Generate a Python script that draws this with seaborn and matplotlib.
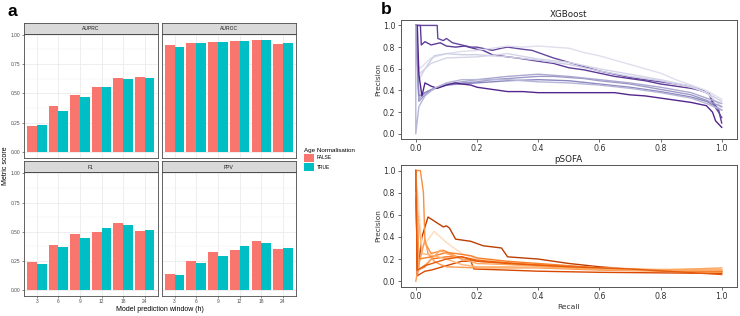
import matplotlib
matplotlib.use("Agg")
import matplotlib.pyplot as plt
import seaborn as sns
import pandas as pd
import numpy as np
from matplotlib.patches import Patch

# ---------------- Panel a data ----------------
windows = ["3", "6", "9", "12", "18", "24"]
age_levels = ["FALSE", "TRUE"]
metrics = ["AUPRC", "AUROC", "F1", "PPV"]

auprc_false = [0.224, 0.395, 0.486, 0.551, 0.631, 0.642]
auprc_true = [0.233, 0.350, 0.472, 0.551, 0.619, 0.633]
auroc_false = [0.909, 0.929, 0.940, 0.946, 0.955, 0.920]
auroc_true = [0.898, 0.929, 0.937, 0.946, 0.952, 0.926]
f1_false = [0.238, 0.388, 0.480, 0.500, 0.572, 0.509]
f1_true = [0.221, 0.368, 0.445, 0.532, 0.555, 0.517]
ppv_false = [0.138, 0.247, 0.328, 0.345, 0.420, 0.353]
ppv_true = [0.126, 0.230, 0.293, 0.374, 0.402, 0.359]

# ---------------- Panel b data (precision-recall curves) ----------------
xgb_recall = [
    [0, 0.015, 0.018, 0.03, 0.05, 0.08, 0.10, 0.13, 0.16, 0.20, 0.22, 0.25, 0.30, 0.33, 0.40, 0.45, 0.50, 0.55, 0.60, 0.65, 0.70, 0.75, 0.80, 0.85, 0.90, 0.93, 0.96, 0.97, 0.99, 1.0],
    [0, 0.07, 0.072, 0.09, 0.10, 0.12, 0.15, 0.18, 0.20, 0.25, 0.28, 0.30, 0.35, 0.38, 0.42, 0.45, 0.50, 0.55, 0.60, 0.65, 0.70, 0.75, 0.80, 0.85, 0.90, 0.94, 0.96, 0.97, 0.99, 1.0],
    [0, 0.01, 0.02, 0.05, 0.10, 0.15, 0.20, 0.25, 0.30, 0.35, 0.40, 0.45, 0.50, 0.55, 0.60, 0.65, 0.70, 0.75, 0.80, 0.85, 0.90, 0.95, 1.0],
    [0, 0.01, 0.03, 0.06, 0.10, 0.15, 0.20, 0.30, 0.40, 0.50, 0.60, 0.70, 0.80, 0.85, 0.90, 0.95, 1.0],
    [0, 0.01, 0.03, 0.05, 0.10, 0.20, 0.30, 0.40, 0.50, 0.60, 0.70, 0.80, 0.90, 0.95, 1.0],
    [0, 0.01, 0.03, 0.05, 0.08, 0.10, 0.15, 0.20, 0.25, 0.30, 0.35, 0.40, 0.45, 0.50, 0.55, 0.60, 0.70, 0.80, 0.90, 0.95, 1.0],
    [0, 0.01, 0.03, 0.06, 0.10, 0.15, 0.20, 0.30, 0.40, 0.45, 0.50, 0.60, 0.70, 0.80, 0.90, 0.95, 1.0],
    [0, 0.01, 0.03, 0.06, 0.10, 0.15, 0.20, 0.30, 0.40, 0.50, 0.60, 0.70, 0.80, 0.90, 0.95, 1.0],
    [0, 0.005, 0.01, 0.02, 0.03, 0.05, 0.07, 0.10, 0.13, 0.15, 0.18, 0.20, 0.25, 0.30, 0.35, 0.40, 0.50, 0.60, 0.65, 0.70, 0.75, 0.80, 0.85, 0.90, 0.95, 0.97, 0.98, 1.0],
    [0, 0.0, 0.01, 0.03, 0.06, 0.10, 0.15, 0.20, 0.30, 0.40, 0.50, 0.60, 0.70, 0.80, 0.90, 0.95, 1.0],
]
xgb_precision = [
    [1, 1, 0.82, 0.85, 0.82, 0.84, 0.81, 0.80, 0.81, 0.78, 0.77, 0.73, 0.71, 0.70, 0.67, 0.65, 0.61, 0.59, 0.56, 0.53, 0.51, 0.49, 0.46, 0.44, 0.42, 0.40, 0.37, 0.30, 0.22, 0.10],
    [1, 1, 0.88, 0.86, 0.88, 0.84, 0.82, 0.80, 0.80, 0.77, 0.79, 0.80, 0.78, 0.77, 0.73, 0.70, 0.66, 0.62, 0.58, 0.55, 0.52, 0.50, 0.48, 0.46, 0.44, 0.40, 0.36, 0.28, 0.20, 0.15],
    [1, 0.60, 0.62, 0.70, 0.74, 0.76, 0.77, 0.79, 0.81, 0.80, 0.81, 0.80, 0.79, 0.75, 0.72, 0.68, 0.64, 0.60, 0.56, 0.50, 0.45, 0.40, 0.32],
    [1, 0.50, 0.60, 0.72, 0.74, 0.73, 0.73, 0.71, 0.68, 0.64, 0.58, 0.53, 0.49, 0.46, 0.43, 0.38, 0.30],
    [1, 0.55, 0.60, 0.65, 0.70, 0.71, 0.74, 0.69, 0.66, 0.60, 0.55, 0.50, 0.44, 0.38, 0.25],
    [1, 0.30, 0.36, 0.40, 0.44, 0.46, 0.47, 0.48, 0.50, 0.51, 0.52, 0.53, 0.53, 0.52, 0.51, 0.49, 0.46, 0.41, 0.36, 0.31, 0.25],
    [1, 0.32, 0.38, 0.42, 0.46, 0.48, 0.50, 0.53, 0.55, 0.54, 0.53, 0.50, 0.47, 0.43, 0.38, 0.33, 0.28],
    [1, 0.35, 0.38, 0.42, 0.45, 0.46, 0.47, 0.49, 0.50, 0.49, 0.46, 0.43, 0.39, 0.34, 0.30, 0.22],
    [1, 1, 0.55, 0.35, 0.47, 0.44, 0.42, 0.45, 0.47, 0.46, 0.45, 0.43, 0.41, 0.39, 0.39, 0.38, 0.38, 0.38, 0.38, 0.36, 0.35, 0.33, 0.31, 0.29, 0.26, 0.20, 0.12, 0.06],
    [1, 0.0, 0.25, 0.35, 0.42, 0.47, 0.50, 0.50, 0.50, 0.48, 0.47, 0.45, 0.42, 0.38, 0.33, 0.28, 0.22],
]
xgb_shades = [0.82, 0.78, 0.22, 0.30, 0.27, 0.50, 0.45, 0.58, 0.88, 0.40]

psofa_recall = [
    [0, 0.005, 0.02, 0.04, 0.09, 0.10, 0.11, 0.13, 0.18, 0.22, 0.28, 0.30, 0.40, 0.50, 0.60, 0.70, 0.80, 0.90, 1.0],
    [0, 0.02, 0.06, 0.10, 0.15, 0.20, 0.40, 0.60, 0.80, 1.0],
    [0, 0.015, 0.025, 0.03, 0.05, 0.09, 0.12, 0.15, 0.20, 0.40, 0.60, 0.80, 1.0],
    [0, 0.005, 0.03, 0.05, 0.10, 0.15, 0.20, 0.40, 0.60, 1.0],
    [0, 0.005, 0.03, 0.05, 0.10, 0.15, 0.18, 0.19, 0.30, 0.40, 0.60, 1.0],
    [0, 0.01, 0.03, 0.04, 0.06, 0.08, 0.10, 0.20, 0.40, 0.60, 1.0],
    [0, 0.01, 0.05, 0.10, 0.13, 0.18, 0.20, 0.30, 0.50, 0.70, 1.0],
    [0, 0.02, 0.06, 0.10, 0.15, 0.20, 0.30, 0.50, 0.70, 1.0],
    [0, 0.01, 0.04, 0.08, 0.10, 0.15, 0.20, 0.30, 0.50, 0.80, 1.0],
    [0, 0.005, 0.03, 0.10, 0.15, 0.20, 0.30, 0.50, 0.70, 1.0],
]
psofa_precision = [
    [1, 0.05, 0.40, 0.58, 0.49, 0.50, 0.48, 0.38, 0.36, 0.32, 0.30, 0.22, 0.20, 0.16, 0.13, 0.11, 0.10, 0.10, 0.09],
    [1, 0.30, 0.45, 0.35, 0.25, 0.20, 0.15, 0.12, 0.11, 0.11],
    [1, 1.0, 0.80, 0.35, 0.25, 0.28, 0.24, 0.20, 0.18, 0.15, 0.12, 0.10, 0.10],
    [1, 0.10, 0.13, 0.20, 0.22, 0.22, 0.19, 0.14, 0.11, 0.08],
    [1, 0.05, 0.09, 0.10, 0.14, 0.18, 0.18, 0.11, 0.10, 0.09, 0.08, 0.07],
    [0, 0.15, 0.38, 0.25, 0.18, 0.15, 0.13, 0.12, 0.12, 0.10, 0.08],
    [1, 0.20, 0.22, 0.26, 0.25, 0.23, 0.21, 0.18, 0.14, 0.10, 0.09],
    [0.8, 0.25, 0.23, 0.20, 0.15, 0.13, 0.13, 0.12, 0.10, 0.10],
    [1, 0.10, 0.17, 0.28, 0.25, 0.20, 0.16, 0.15, 0.12, 0.10, 0.12],
    [1, 0.10, 0.14, 0.20, 0.22, 0.18, 0.16, 0.13, 0.11, 0.06],
]
psofa_shades = [0.82, 0.18, 0.50, 0.60, 0.75, 0.45, 0.55, 0.35, 0.40, 0.68]

# ---------------- Figure ----------------
W, H = 740, 316
fig = plt.figure(figsize=(W / 100, H / 100), dpi=100)


def fx(px):
    return px / W


def fy(py):
    return 1 - py / H


GG_FONT = "Liberation Sans"
pal = {"FALSE": "#F8766D", "TRUE": "#00BFC4"}

bar_df = pd.DataFrame({
    "metric": np.repeat(metrics, len(windows) * 2),
    "window": (windows * 2) * len(metrics),
    "age": ([age_levels[0]] * len(windows) + [age_levels[1]] * len(windows)) * len(metrics),
    "score": auprc_false + auprc_true + auroc_false + auroc_true
             + f1_false + f1_true + ppv_false + ppv_true,
})

# panel geometry in pixels: (left, right, top, bottom)
panels = {
    "AUPRC": (24.0, 157.6, 33.8, 157.6),
    "AUROC": (161.5, 296.0, 33.8, 157.6),
    "F1": (24.0, 157.6, 172.4, 295.6),
    "PPV": (161.5, 296.0, 172.4, 295.6),
}
strip_h = 11.0
border_col = "#4a4a4a"

for m, (l, r, t, b) in panels.items():
    ax = fig.add_axes([fx(l), fy(b), fx(r - l), (b - t) / H])
    sub = bar_df[bar_df.metric == m]
    sns.barplot(data=sub, x="window", y="score", hue="age", order=windows,
                hue_order=age_levels, palette=pal, width=0.9, gap=0,
                saturation=1, errorbar=None, legend=False, ax=ax,
                linewidth=0)
    ax.set_xlim(-0.6, len(windows) - 0.4)
    ax.set_ylim(-0.048, 1.008)
    ax.set_facecolor("white")
    ax.set_yticks([0, 0.25, 0.5, 0.75, 1.0])
    ax.set_yticks([0.125, 0.375, 0.625, 0.875], minor=True)
    ax.set_axisbelow(True)
    ax.grid(True, which="major", color="#EBEBEB", lw=0.6)
    ax.grid(True, which="minor", axis="y", color="#F2F2F2", lw=0.35)
    for s in ax.spines.values():
        s.set_color(border_col)
        s.set_linewidth(0.6)
    ax.set_xlabel("")
    ax.set_ylabel("")
    ax.tick_params(which="minor", length=0)
    ax.tick_params(which="major", length=1.6, width=0.4, color="#333333",
                   labelsize=3.5, labelcolor="#4D4D4D", pad=1.2)
    for lab in ax.get_xticklabels() + ax.get_yticklabels():
        lab.set_fontfamily(GG_FONT)
    if m in ("AUPRC", "AUROC"):
        ax.tick_params(axis="x", length=0, labelbottom=False)
    else:
        ax.set_xticks(range(len(windows)))
        ax.set_xticklabels(windows)
    if m in ("AUROC", "PPV"):
        ax.tick_params(axis="y", length=0, labelleft=False)
    else:
        ax.set_yticklabels(["0.00", "0.25", "0.50", "0.75", "1.00"])
    # strip
    sax = fig.add_axes([fx(l), fy(t), fx(r - l), strip_h / H])
    sax.set_facecolor("#D9D9D9")
    sax.set_xticks([])
    sax.set_yticks([])
    for s in sax.spines.values():
        s.set_color(border_col)
        s.set_linewidth(0.6)
    sax.text(0.5, 0.45, m, ha="center", va="center", fontsize=3.6,
             color="#1A1A1A", family=GG_FONT, transform=sax.transAxes)

fig.text(fx(160), fy(309.5), "Model prediction window (h)", ha="center",
         va="center", fontsize=5, family=GG_FONT, color="#000000")
fig.text(fx(5.5), fy(166), "Metric score", ha="center", va="center",
         rotation=90, fontsize=5, family=GG_FONT, color="#000000")

handles = [Patch(facecolor=pal[a], edgecolor="none", label=a) for a in age_levels]
leg = fig.legend(handles=handles, title="Age Normalisation", loc="upper left",
                 bbox_to_anchor=(fx(304), fy(148)), frameon=False,
                 prop={"family": GG_FONT, "size": 3.5},
                 title_fontproperties={"family": GG_FONT, "size": 4.5},
                 handlelength=2.0, handleheight=2.3, handletextpad=0.6,
                 labelspacing=0.15, borderaxespad=0, borderpad=0)
leg._legend_box.align = "left"

fig.text(fx(8), fy(11), "a", fontsize=12.5, fontweight="bold",
         family=GG_FONT, ha="left", va="center")
fig.text(fx(381), fy(10), "b", fontsize=12.5, fontweight="bold",
         family=GG_FONT, ha="left", va="center")

# ---------------- Panel b ----------------
purples = plt.get_cmap("Purples")
oranges = plt.get_cmap("Oranges")
bl, br = 400.5, 737.0
ax_x = fig.add_axes([fx(bl), fy(139.3), fx(br - bl), (139.3 - 20.0) / H])
ax_p = fig.add_axes([fx(bl), fy(286.7), fx(br - bl), (286.7 - 165.0) / H])

for rec, prec, sh in zip(xgb_recall, xgb_precision, xgb_shades):
    sns.lineplot(x=rec, y=prec, sort=False, estimator=None, ax=ax_x,
                 color=purples(sh), lw=1.0)
for rec, prec, sh in zip(psofa_recall, psofa_precision, psofa_shades):
    sns.lineplot(x=rec, y=prec, sort=False, estimator=None, ax=ax_p,
                 color=oranges(sh), lw=1.0)

for ax, title in ((ax_x, "XGBoost"), (ax_p, "pSOFA")):
    ax.set_xlim(-0.05, 1.05)
    ax.set_ylim(-0.05, 1.05)
    ax.set_xticks([0, 0.2, 0.4, 0.6, 0.8, 1.0])
    ax.set_yticks([0, 0.2, 0.4, 0.6, 0.8, 1.0])
    ax.tick_params(length=2.2, width=0.5, labelsize=5.7, pad=1.5,
                   color="#333333", labelcolor="#333333")
    for s in ax.spines.values():
        s.set_color("#555555")
        s.set_linewidth(0.7)
    ax.set_title(title, fontsize=6.3, pad=2.0, color="#222222")
    ax.set_ylabel("Precision", fontsize=5.3, labelpad=1.5, color="#333333")
    ax.set_xlabel("")
ax_p.set_xlabel("Recall", fontsize=5.4, labelpad=2, color="#333333")

fig.savefig("out.png", dpi=100)
